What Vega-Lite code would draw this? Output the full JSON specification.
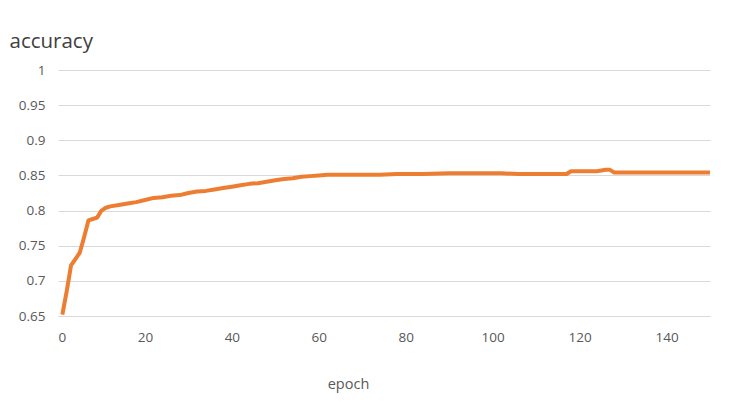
{
  "$schema": "https://vega.github.io/schema/vega-lite/v6.json",
  "width": 652,
  "height": 246,
  "autosize": {"type": "none"},
  "padding": {"left": 58, "top": 70, "right": 22, "bottom": 86},
  "background": "white",
  "config": {
    "view": {"stroke": null},
    "font": "Open Sans"
  },
  "data": {
    "values": [
      {"epoch": 1, "accuracy": 0.652},
      {"epoch": 2, "accuracy": 0.685},
      {"epoch": 3, "accuracy": 0.722},
      {"epoch": 4, "accuracy": 0.731},
      {"epoch": 5, "accuracy": 0.740},
      {"epoch": 6, "accuracy": 0.762},
      {"epoch": 7, "accuracy": 0.786},
      {"epoch": 8, "accuracy": 0.788},
      {"epoch": 9, "accuracy": 0.790},
      {"epoch": 10, "accuracy": 0.800},
      {"epoch": 11, "accuracy": 0.804},
      {"epoch": 12, "accuracy": 0.806},
      {"epoch": 14, "accuracy": 0.808},
      {"epoch": 16, "accuracy": 0.810},
      {"epoch": 18, "accuracy": 0.812},
      {"epoch": 20, "accuracy": 0.815},
      {"epoch": 22, "accuracy": 0.818},
      {"epoch": 24, "accuracy": 0.819},
      {"epoch": 26, "accuracy": 0.821},
      {"epoch": 28, "accuracy": 0.822},
      {"epoch": 30, "accuracy": 0.825},
      {"epoch": 32, "accuracy": 0.827},
      {"epoch": 34, "accuracy": 0.828},
      {"epoch": 36, "accuracy": 0.830},
      {"epoch": 38, "accuracy": 0.832},
      {"epoch": 40, "accuracy": 0.834},
      {"epoch": 42, "accuracy": 0.836},
      {"epoch": 44, "accuracy": 0.838},
      {"epoch": 46, "accuracy": 0.839},
      {"epoch": 48, "accuracy": 0.841},
      {"epoch": 50, "accuracy": 0.843},
      {"epoch": 52, "accuracy": 0.845},
      {"epoch": 54, "accuracy": 0.846},
      {"epoch": 56, "accuracy": 0.848},
      {"epoch": 58, "accuracy": 0.849},
      {"epoch": 60, "accuracy": 0.850},
      {"epoch": 62, "accuracy": 0.851},
      {"epoch": 66, "accuracy": 0.851},
      {"epoch": 70, "accuracy": 0.851},
      {"epoch": 74, "accuracy": 0.851},
      {"epoch": 78, "accuracy": 0.852},
      {"epoch": 84, "accuracy": 0.852},
      {"epoch": 90, "accuracy": 0.853},
      {"epoch": 96, "accuracy": 0.853},
      {"epoch": 102, "accuracy": 0.853},
      {"epoch": 106, "accuracy": 0.852},
      {"epoch": 110, "accuracy": 0.852},
      {"epoch": 117, "accuracy": 0.852},
      {"epoch": 118, "accuracy": 0.856},
      {"epoch": 124, "accuracy": 0.856},
      {"epoch": 126, "accuracy": 0.858},
      {"epoch": 127, "accuracy": 0.858},
      {"epoch": 128, "accuracy": 0.854},
      {"epoch": 135, "accuracy": 0.854},
      {"epoch": 140, "accuracy": 0.854},
      {"epoch": 145, "accuracy": 0.854},
      {"epoch": 150, "accuracy": 0.854}
    ]
  },
  "mark": {"type": "line", "color": "#ED7D31", "strokeWidth": 4, "strokeJoin": "round", "strokeCap": "butt", "clip": false},
  "encoding": {
    "x": {
      "field": "epoch",
      "type": "quantitative",
      "scale": {"domain": [0, 150], "nice": false, "zero": true},
      "axis": {
        "values": [0, 20, 40, 60, 80, 100, 120, 140],
        "grid": false,
        "domain": false,
        "ticks": false,
        "labelPadding": 14,
        "labelFontSize": 13.5,
        "labelColor": "#595959",
        "title": "epoch",
        "titleFontSize": 14.5,
        "titleFontWeight": "normal",
        "titleColor": "#595959",
        "titleX": 290,
        "titleY": 72,
        "titleBaseline": "alphabetic"
      }
    },
    "y": {
      "field": "accuracy",
      "type": "quantitative",
      "scale": {"domain": [0.65, 1], "nice": false, "zero": false},
      "axis": {
        "values": [0.65, 0.7, 0.75, 0.8, 0.85, 0.9, 0.95, 1],
        "format": "~g",
        "grid": true,
        "gridColor": "#D9D9D9",
        "gridWidth": 1,
        "domain": false,
        "ticks": false,
        "labelPadding": 13,
        "labelFontSize": 13.5,
        "labelColor": "#595959",
        "title": "accuracy",
        "titleAngle": 0,
        "titleFontSize": 20.5,
        "titleFontWeight": "normal",
        "titleColor": "#404040",
        "titleAlign": "left",
        "titleBaseline": "alphabetic",
        "titleX": -49,
        "titleY": -23
      }
    }
  }
}
